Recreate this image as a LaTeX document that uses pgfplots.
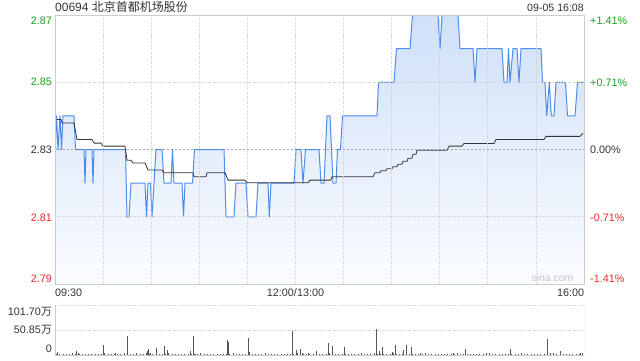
\documentclass[border=0pt]{standalone}
\usepackage{pgfplots}
\pgfplotsset{compat=1.18}
\usepackage{pgfplotstable}
\usepackage{fontspec}
\setmainfont{Liberation Sans}
\newfontfamily\cjk{Noto Sans CJK SC}
\definecolor{blueline}{HTML}{4E8CEB}
\definecolor{filltop}{HTML}{D0E0F8}
\definecolor{fillbot}{HTML}{FAFCFF}
\definecolor{upgreen}{HTML}{1BA01B}
\definecolor{downred}{HTML}{EE2B2B}
\definecolor{gridc}{HTML}{C8C8C8}
\definecolor{framec}{HTML}{CCCCCC}
\definecolor{avgc}{HTML}{333333}
\definecolor{volc}{HTML}{555555}
\definecolor{txt}{HTML}{333333}

\pgfplotstableread{
m p
0 2.83
0.94 2.84
1.87 2.83
3.12 2.84
4.05 2.83
4.99 2.84
11.85 2.84
12.79 2.83
18.09 2.83
18.71 2.82
19.34 2.83
23.08 2.83
23.71 2.82
24.33 2.83
43.98 2.83
44.92 2.81
46.16 2.81
47.41 2.82
56.14 2.82
57.08 2.81
58.01 2.82
59.57 2.82
60.51 2.81
63.01 2.83
66.75 2.83
68.0 2.82
72.36 2.82
73.3 2.83
74.23 2.82
79.23 2.82
80.16 2.81
81.1 2.82
85.78 2.82
87.02 2.83
105.43 2.83
106.67 2.81
111.66 2.81
112.91 2.82
119.15 2.82
120.4 2.81
125.39 2.81
126.63 2.82
132.87 2.82
133.68 2.81
134.74 2.82
149.09 2.82
150.34 2.83
153.46 2.83
154.71 2.82
156.27 2.83
164.69 2.83
165.94 2.82
167.81 2.82
169.68 2.84
171.55 2.84
173.42 2.82
175.29 2.82
176.23 2.83
178.1 2.83
179.35 2.84
200.87 2.84
201.81 2.85
211.48 2.85
213.03 2.86
221.46 2.86
223.02 2.87
238.92 2.87
240.17 2.86
241.42 2.87
251.4 2.87
252.65 2.86
260.76 2.86
262.0 2.85
263.25 2.86
278.85 2.86
280.1 2.85
281.97 2.85
282.9 2.86
283.84 2.85
285.71 2.86
288.2 2.86
289.45 2.85
290.7 2.86
303.18 2.86
304.11 2.85
305.67 2.85
306.73 2.84
308.36 2.85
309.6 2.84
311.29 2.84
312.53 2.85
318.46 2.85
319.71 2.84
324.39 2.84
325.95 2.85
330 2.85
}\price

\pgfplotstableread{
m p
1.2 2.8389
3.74 2.8389
4.37 2.8379
11.85 2.8379
13.72 2.8330
23.08 2.8330
24.33 2.8319
28.7 2.8319
29.94 2.8310
43.67 2.8310
44.92 2.8268
47.41 2.8268
48.66 2.8260
56.14 2.8260
58.01 2.8239
66.75 2.8239
68.0 2.8231
86.09 2.8231
86.71 2.8219
94.2 2.8219
94.82 2.8231
106.05 2.8231
107.92 2.8209
118.53 2.8209
119.77 2.8201
157.83 2.8201
159.07 2.8209
172.0 2.8209
172.8 2.8219
198.37 2.8219
199.62 2.8231
202.74 2.8231
203.37 2.8237
206.48 2.8237
207.11 2.8243
210.23 2.8243
210.85 2.8249
213.35 2.8249
213.97 2.8256
216.47 2.8256
217.09 2.8265
219.58 2.8265
220.21 2.8274
222.7 2.8274
223.33 2.8286
225.2 2.8286
225.82 2.8298
244.54 2.8298
245.79 2.8310
253.9 2.8310
255.14 2.8318
273.86 2.8318
275.1 2.8330
305.05 2.8330
306.3 2.8339
327.5 2.8339
329.4 2.8349
}\avg

\begin{document}
\begin{tikzpicture}
\useasboundingbox (0pt,0pt) rectangle (640pt,360pt);
\fill[white] (0pt,0pt) rectangle (640pt,360pt);

\begin{axis}[
  at={(55pt,76pt)}, anchor=south west, scale only axis,
  width=529pt, height=269pt,
  xmin=0, xmax=330, ymin=2.79, ymax=2.87,
  xtick={30,60,...,300}, ytick={2.81,2.85},
  xticklabels={}, yticklabels={},
  major tick length=0pt,
  grid=major,
  grid style={dash pattern=on 1pt off 1.5pt, color=gridc, line width=0.7pt},
  axis line style={framec, line width=0.8pt},
  axis on top,
]
\addplot[draw=none, top color=filltop, bottom color=fillbot] table[x=m,y=p] {\price}
  -- (axis cs:330,2.79) -- (axis cs:0,2.79) -- cycle;
\addplot[color=gray!70, dash pattern=on 2pt off 2pt, line width=0.7pt] coordinates {(0,2.83) (330,2.83)};
\addplot[color=blueline, line width=1pt, line join=round] table[x=m,y=p] {\price};
\addplot[color=avgc, line width=0.8pt] table[x=m,y=p] {\avg};
\end{axis}

\begin{axis}[
  at={(55pt,5pt)}, anchor=south west, scale only axis,
  width=529pt, height=50pt,
  xmin=0, xmax=330, ymin=0, ymax=101.7,
  xtick=\empty, ytick={50.85,101.7}, yticklabels={},
  major tick length=0pt,
  ymajorgrids,
  grid style={dash pattern=on 1pt off 1.5pt, color=gridc, line width=0.7pt},
  axis line style={draw=none},
]
\addplot[ycomb, color=volc, line width=0.8pt] coordinates {
(1,3)(3,2)(5,2)(7,3)(9,2)(11,4)(13,2)(15,2)(17,3)(19,2)(21,3)(23,2)(25,2)(27,2)(29,3)(31,4)(33,2)(35,2)(37,3)(39,2)(41,3)(43,2)(45,2)(47,3)(49,2)(51,4)(53,2)(55,2)(57,3)(59,2)(61,3)(63,2)(65,2)(67,2)(69,3)(71,4)(73,2)(75,2)(77,3)(79,2)(81,3)(83,2)(85,2)(87,3)(89,2)(91,4)(93,2)(95,2)(97,3)(99,2)(101,3)(103,2)(105,2)(107,2)(109,3)(111,4)(113,2)(115,2)(117,3)(119,2)(121,3)(123,2)(125,2)(127,3)(129,2)(131,4)(133,2)(135,2)(137,3)(139,2)(141,3)(143,2)(145,2)(147,2)(149,3)(151,4)(153,2)(155,2)(157,3)(159,2)(161,3)(163,2)(165,2)(167,3)(169,2)(171,4)(173,2)(175,2)(177,3)(179,2)(181,3)(183,2)(185,2)(187,2)(189,3)(191,4)(193,2)(195,2)(197,3)(199,2)(201,3)(203,2)(205,2)(207,3)(209,2)(211,4)(213,2)(215,2)(217,3)(219,2)(221,3)(223,2)(225,2)(227,2)(229,3)(231,4)(233,2)(235,2)(237,3)(239,2)(241,3)(243,2)(245,2)(247,3)(249,2)(251,4)(253,2)(255,2)(257,3)(259,2)(261,3)(263,2)(265,2)(267,2)(269,3)(271,4)(273,2)(275,2)(277,3)(279,2)(281,3)(283,2)(285,2)(287,3)(289,2)(291,4)(293,2)(295,2)(297,3)(299,2)(301,3)(303,2)(305,2)(307,2)(309,3)(311,4)(313,2)(315,2)(317,3)(319,2)(321,3)(323,2)(325,2)(327,3)(329,4)
};
\addplot[ycomb, color=volc, line width=0.8pt] coordinates {
(1.4,6)(13.5,8)(14.5,5)(30.1,21)(37.9,4)(43,4)(45.1,39)(56.8,5)(57.8,8)(58.5,12)(59.3,5)(63.2,14)(68.2,19)(70.1,10)(84.4,8)(86.3,39)(87.8,3)(107.3,30.5)(108.1,27)(120.6,34.6)(121.2,6)(148,49.5)(150.5,10)(153,12)(154.1,5)(158,4)(163,8)(170.5,25)(173,19)(180.5,17)(199,5)(200.4,53)(202.3,9)(204.2,16)(210.4,6)(212.3,20)(217.3,10)(219.2,20)(222.4,16)(227.7,5)(248.5,5)(255.8,12)(269.3,4)(283.8,12)(307.1,32.5)(308.8,5)(315.5,8)(328,5)
};
\draw[framec, line width=0.8pt] (rel axis cs:0,1) -- (rel axis cs:0,0) -- (rel axis cs:1,0) -- (rel axis cs:1,1);
\end{axis}

% title and timestamp
\node[anchor=base west, inner sep=0pt, text=txt, font=\fontsize{12}{14}\selectfont] at (55pt,348.3pt) {00694 {\cjk 北京首都机场股份}};
\node[anchor=base east, inner sep=0pt, text=txt, font=\fontsize{10.6}{12}\selectfont] at (584pt,348.3pt) {09-05 16:08};

\begin{scope}[every node/.style={inner sep=0pt, font=\fontsize{10.8}{12}\selectfont}]
\node[anchor=base east, text=upgreen] at (52pt,336pt) {2.87};
\node[anchor=base east, text=upgreen] at (52pt,274.3pt) {2.85};
\node[anchor=base east, text=txt] at (52pt,206.7pt) {2.83};
\node[anchor=base east, text=downred] at (52pt,139pt) {2.81};
\node[anchor=base east, text=downred] at (52pt,78pt) {2.79};
\node[anchor=base west, text=upgreen] at (590pt,335.7pt) {+1.41\%};
\node[anchor=base west, text=upgreen] at (590pt,274pt) {+0.71\%};
\node[anchor=base west, text=txt] at (590pt,206.7pt) {0.00\%};
\node[anchor=base west, text=downred] at (590pt,139pt) {-0.71\%};
\node[anchor=base west, text=downred] at (590pt,77.3pt) {-1.41\%};
\node[anchor=base west, text=txt] at (55pt,63.3pt) {09:30};
\node[anchor=base, text=txt] at (295.5pt,63.3pt) {12:00/13:00};
\node[anchor=base east, text=txt] at (584.3pt,63.3pt) {16:00};
\node[anchor=base east, text=txt] at (52pt,45pt) {101.70{\cjk 万}};
\node[anchor=base east, text=txt] at (52pt,27pt) {50.85{\cjk 万}};
\node[anchor=base east, text=txt] at (52pt,8pt) {0};
\node[anchor=base east, text=gray!45, font=\fontsize{10.4}{12}\selectfont] at (573.5pt,78.5pt) {sina.com};
\end{scope}
\end{tikzpicture}
\end{document}
